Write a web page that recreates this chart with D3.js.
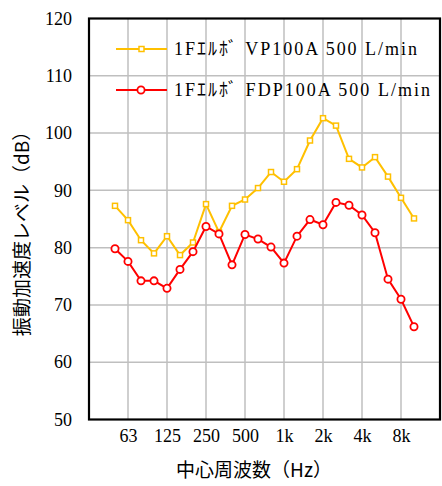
<!DOCTYPE html>
<html><head><meta charset="utf-8">
<script src="https://cdn.jsdelivr.net/npm/d3@7"></script>
<style>body{margin:0;background:#fff}svg{display:block}
</style>
</head><body>
<script>
const freqs = ["50","63","80","100","125","160","200","250","315","400","500","630","800","1k","1.25k","1.6k","2k","2.5k","3.15k","4k","5k","6.3k","8k","10k"];
const vp100a = [87.3,84.8,81.3,79.0,82.0,78.7,80.9,87.6,82.7,87.3,88.4,90.4,93.2,91.5,93.7,98.7,102.6,101.3,95.5,94.0,95.8,92.4,88.7,85.1];
const fdp100a = [79.8,77.6,74.2,74.2,72.9,76.2,79.3,83.7,82.4,77.0,82.3,81.5,80.1,77.3,82.0,84.9,84.0,87.9,87.4,85.7,82.6,74.5,71.0,66.2];
const xTickIdx = [1,4,7,10,13,16,19,22];
const xTickLabels = ["63","125","250","500","1k","2k","4k","8k"];
const yTicks = [50,60,70,80,90,100,110,120];
const seriesNames = ["1Fｴﾙﾎﾞ VP100A 500 L/min","1Fｴﾙﾎﾞ FDP100A 500 L/min"];

const W=442,H=486;
const L=89,R=440,T=18.5,B=419.5;
const SERIF='font-family:"Liberation Serif","Times New Roman","Noto Sans CJK JP",serif';
const svg=d3.select("body").append("svg").attr("width",W).attr("height",H);
const x=d3.scaleLinear().domain([-2,25]).range([L,R]);
const y=d3.scaleLinear().domain([50,120]).range([B,T]);

// grid
const g=svg.append("g");
g.selectAll("line.v").data(xTickIdx).join("line")
 .attr("x1",d=>x(d)).attr("x2",d=>x(d)).attr("y1",T).attr("y2",B)
 .attr("stroke","#bfbfbf").attr("stroke-width",1.5);
g.selectAll("line.h").data(yTicks.slice(1,-1)).join("line")
 .attr("x1",L).attr("x2",R).attr("y1",d=>y(d)).attr("y2",d=>y(d))
 .attr("stroke","#bfbfbf").attr("stroke-width",1.5);

// axes
const yAxis=d3.axisLeft(y).tickValues(yTicks).tickSize(0).tickPadding(17);
const ya=svg.append("g").attr("transform",`translate(${L},0)`).call(yAxis);
const xAxis=d3.axisBottom(x).tickValues(xTickIdx).tickFormat((d,i)=>xTickLabels[i]).tickSize(0).tickPadding(10);
const xa=svg.append("g").attr("transform",`translate(0,${B})`).call(xAxis);
[ya,xa].forEach(a=>{a.attr("font-family",null);a.select(".domain").remove();a.selectAll("text").attr("style",SERIF).attr("font-size",18).attr("fill","#000");});

// border
svg.append("rect").attr("x",L).attr("y",T).attr("width",R-L).attr("height",B-T)
 .attr("fill","none").attr("stroke","#000").attr("stroke-width",2.2);

// lines
const line=d3.line().x((d,i)=>x(i)).y(d=>y(d));
svg.append("path").datum(vp100a).attr("d",line).attr("fill","none").attr("stroke","#FFC000").attr("stroke-width",2);
svg.append("g").selectAll("rect").data(vp100a).join("rect")
 .attr("x",(d,i)=>x(i)-2.5).attr("y",d=>y(d)-2.5).attr("width",5).attr("height",5)
 .attr("fill","#fff").attr("stroke","#FFC000").attr("stroke-width",1.5);
svg.append("path").datum(fdp100a).attr("d",line).attr("fill","none").attr("stroke","#FF0000").attr("stroke-width",2);
svg.append("g").selectAll("circle").data(fdp100a).join("circle")
 .attr("cx",(d,i)=>x(i)).attr("cy",d=>y(d)).attr("r",3.6)
 .attr("fill","#fff").attr("stroke","#FF0000").attr("stroke-width",1.8);

// legend
const lg=svg.append("g");
const legY=[49,90];
const cols=["#FFC000","#FF0000"];
lg.selectAll("line").data(legY).join("line").attr("x1",116).attr("x2",167).attr("y1",d=>d).attr("y2",d=>d)
 .attr("stroke",(d,i)=>cols[i]).attr("stroke-width",2);
lg.append("rect").attr("x",139).attr("y",legY[0]-2.5).attr("width",5).attr("height",5).attr("fill","#fff").attr("stroke",cols[0]).attr("stroke-width",1.5);
lg.append("circle").attr("cx",141).attr("cy",legY[1]).attr("r",3.6).attr("fill","#fff").attr("stroke",cols[1]).attr("stroke-width",1.8);
lg.selectAll("text").data(seriesNames).join("text").attr("style",SERIF)
 .attr("x",174).attr("y",(d,i)=>legY[i]+6).attr("font-size",18)
 .attr("textLength",(d,i)=>i===0?243:256).attr("lengthAdjust","spacing")
 .text(d=>d);

// titles
svg.append("text").attr("x",254).attr("y",477).attr("text-anchor","middle")
 .attr("font-family","'Noto Sans CJK JP',sans-serif").attr("font-size",19).text("中心周波数（Hz）");
svg.append("text").attr("transform","translate(29,229) rotate(-90)").attr("text-anchor","middle")
 .attr("font-family","'Noto Sans CJK JP',sans-serif").attr("font-size",19).text("振動加速度レベル（dB）");
</script>
</body></html>
